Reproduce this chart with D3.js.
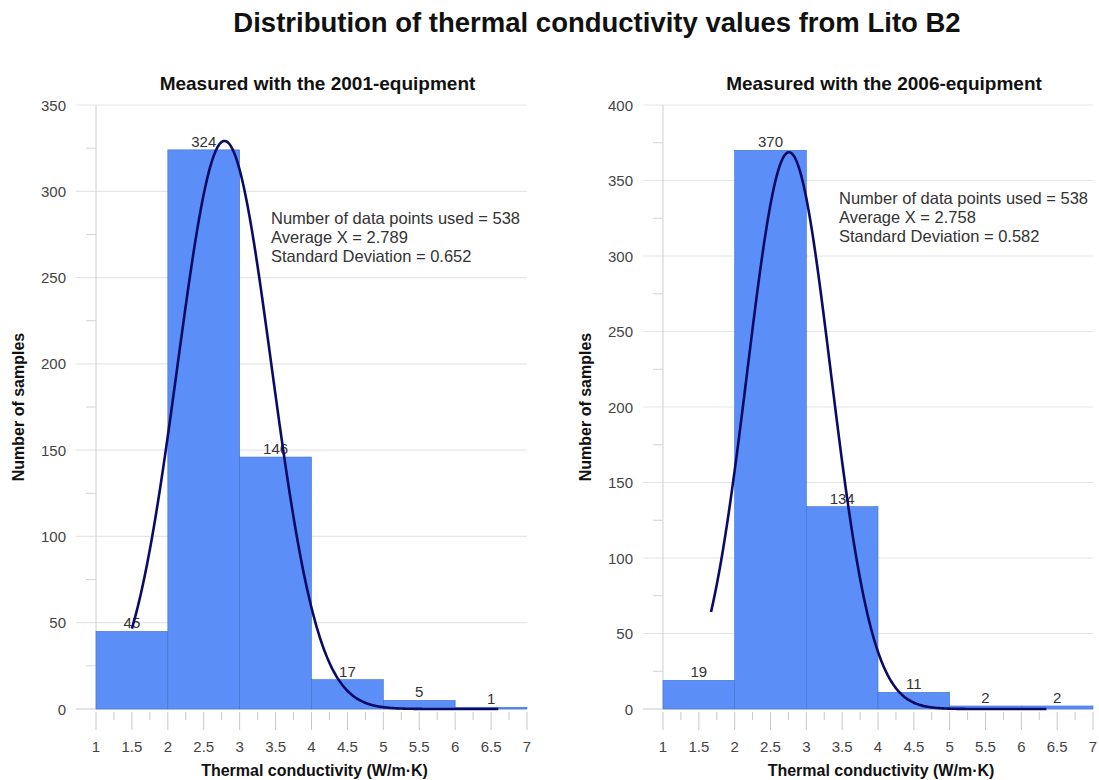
<!DOCTYPE html>
<html>
<head>
<meta charset="utf-8">
<script src="https://cdn.jsdelivr.net/npm/d3@7"></script>
<style>
  body { margin: 0; background: #fff; }
  svg text { font-family: "Liberation Sans", Arial, sans-serif; }
</style>
</head>
<body>
<svg id="chart" width="1099" height="780"></svg>
<script>
// Histogram bins (W/m·K)
const binStarts = [1, 2, 3, 4, 5, 6];
const binWidth = 1;

// Sample counts per bin
const counts2001 = [45, 324, 146, 17, 5, 1];
const counts2006 = [19, 370, 134, 11, 2, 2];

// Summary statistics
const stats2001 = { n: 538, mean: 2.789, sd: 0.652 };
const stats2006 = { n: 538, mean: 2.758, sd: 0.582 };

// Range over which the fitted normal curve is drawn
const curveRange2001 = [1.5, 6.6];
const curveRange2006 = [1.67, 6.35];

// Axis ticks
const xTicks = [1, 1.5, 2, 2.5, 3, 3.5, 4, 4.5, 5, 5.5, 6, 6.5, 7];
const yMax2001 = 350;
const yMax2006 = 400;

const svg = d3.select("#chart");

svg.append("text")
  .attr("x", 597).attr("y", 32)
  .attr("text-anchor", "middle")
  .attr("font-size", 27.5).attr("font-weight", "bold").attr("fill", "#111")
  .text("Distribution of thermal conductivity values from Lito B2");

function panel(opts) {
  const { left, right, top, bottom, counts, stats, curveRange, yMax, title, statsX, statsY, yTitleX } = opts;
  const g = svg.append("g");
  const x = d3.scaleLinear().domain([1, 7]).range([left, right]);
  const y = d3.scaleLinear().domain([0, yMax]).range([bottom, top]);

  // subtitle
  g.append("text")
    .attr("x", (left + right) / 2 + 6).attr("y", top - 15)
    .attr("text-anchor", "middle")
    .attr("font-size", 19).attr("font-weight", "bold").attr("fill", "#111")
    .text(title);

  // horizontal gridlines + major y ticks
  const majorY = d3.range(0, yMax + 1, 50);
  const minorY = d3.range(25, yMax, 50);
  g.selectAll(".grid").data(majorY).enter().append("line")
    .attr("x1", left - 20).attr("x2", right)
    .attr("y1", d => y(d)).attr("y2", d => y(d))
    .attr("stroke", d => d === 0 ? "#c8c8c8" : "#e6e6e6").attr("stroke-width", 1.2);
  g.selectAll(".minorY").data(minorY).enter().append("line")
    .attr("x1", left - 10).attr("x2", left)
    .attr("y1", d => y(d)).attr("y2", d => y(d))
    .attr("stroke", "#d4d4d4").attr("stroke-width", 1);
  g.selectAll(".ylab").data(majorY).enter().append("text")
    .attr("x", left - 30).attr("y", d => y(d) + 5.5)
    .attr("text-anchor", "end")
    .attr("font-size", 15).attr("fill", "#444")
    .text(d => d);

  // y axis line
  g.append("line")
    .attr("x1", left).attr("x2", left).attr("y1", top).attr("y2", bottom)
    .attr("stroke", "#d0d0d0").attr("stroke-width", 1);

  // bars
  g.selectAll(".bar").data(binStarts).enter().append("rect")
    .attr("x", d => x(d))
    .attr("width", x(1 + binWidth) - x(1))
    .attr("y", (d, i) => y(counts[i]))
    .attr("height", (d, i) => bottom - y(counts[i]))
    .attr("fill", "#5b8ff7")
    .attr("stroke", "#3f6fcf").attr("stroke-width", 0.6);

  // x ticks (minor every 0.25, major every 0.5)
  const xt = d3.range(0, 25).map(i => 1 + i * 0.25);
  g.selectAll(".xt").data(xt).enter().append("line")
    .attr("x1", d => x(d)).attr("x2", d => x(d))
    .attr("y1", bottom + 3)
    .attr("y2", (d, i) => bottom + (i % 2 === 0 ? 21 : 11))
    .attr("stroke", "#c8c8c8").attr("stroke-width", 1);
  g.selectAll(".xlab").data(xTicks).enter().append("text")
    .attr("x", d => x(d)).attr("y", bottom + 43)
    .attr("text-anchor", "middle")
    .attr("font-size", 15).attr("fill", "#444")
    .text(d => d);

  // value labels
  g.selectAll(".val").data(binStarts).enter().append("text")
    .attr("x", d => x(d + binWidth / 2))
    .attr("y", (d, i) => y(counts[i]) - 3)
    .attr("text-anchor", "middle")
    .attr("font-size", 15).attr("fill", "#333")
    .text((d, i) => counts[i]);

  // fitted normal curve scaled to counts
  const pdf = v => stats.n * binWidth / (stats.sd * Math.sqrt(2 * Math.PI)) *
    Math.exp(-0.5 * Math.pow((v - stats.mean) / stats.sd, 2));
  const pts = d3.range(0, 301).map(i => {
    const v = curveRange[0] + (curveRange[1] - curveRange[0]) * i / 300;
    return [v, pdf(v)];
  });
  g.append("path")
    .datum(pts)
    .attr("d", d3.line().x(d => x(d[0])).y(d => y(d[1])).curve(d3.curveBasis))
    .attr("fill", "none").attr("stroke", "#0b0b66").attr("stroke-width", 2.6);

  // statistics text
  const lines = [
    "Number of data points used = " + stats.n,
    "Average X = " + stats.mean.toFixed(3),
    "Standard Deviation = " + stats.sd.toFixed(3)
  ];
  g.selectAll(".st").data(lines).enter().append("text")
    .attr("x", statsX).attr("y", (d, i) => statsY + i * 19)
    .attr("font-size", 16.5).attr("fill", "#333")
    .text(d => d);

  // axis titles
  g.append("text")
    .attr("x", (left + right) / 2 + 3).attr("y", bottom + 67)
    .attr("text-anchor", "middle")
    .attr("font-size", 16).attr("font-weight", "bold").attr("fill", "#111")
    .text("Thermal conductivity (W/m·K)");
  g.append("text")
    .attr("transform", `translate(${yTitleX},${(top + bottom) / 2}) rotate(-90)`)
    .attr("text-anchor", "middle")
    .attr("font-size", 16).attr("font-weight", "bold").attr("fill", "#111")
    .text("Number of samples");
}

panel({
  left: 96, right: 527, top: 105, bottom: 709,
  counts: counts2001, stats: stats2001, curveRange: curveRange2001,
  yMax: yMax2001, title: "Measured with the 2001-equipment",
  statsX: 271, statsY: 224, yTitleX: 24
});
panel({
  left: 663, right: 1093, top: 105, bottom: 709,
  counts: counts2006, stats: stats2006, curveRange: curveRange2006,
  yMax: yMax2006, title: "Measured with the 2006-equipment",
  statsX: 839, statsY: 204, yTitleX: 591
});
</script>
</body>
</html>
